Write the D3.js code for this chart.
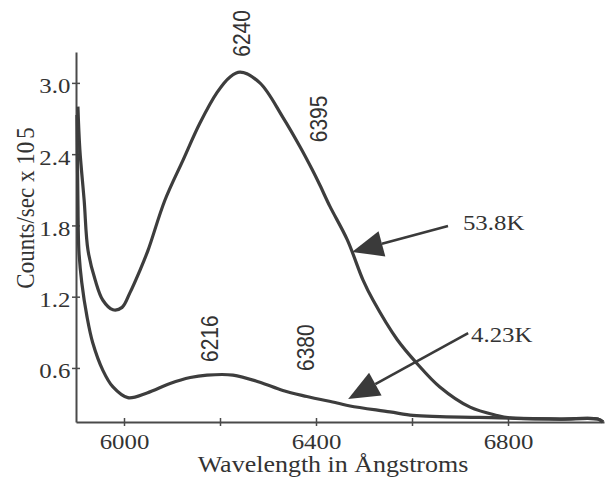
<html>
<head>
<style>
  body { margin: 0; background: #fff; }
  text { fill: #333; }
</style>
</head>
<body>
<script src="https://d3js.org/d3.v7.min.js"></script>
<script>

    // Emission spectra, counts/sec x 10^5 against wavelength (Å)
    var wave538 = [5904, 5908, 5917, 5925, 5940, 5956, 5977, 5996, 6012, 6033, 6050, 6085, 6123, 6158, 6194, 6221, 6242,
                   6283, 6331, 6367, 6392, 6408, 6429, 6465, 6498, 6519, 6569, 6610, 6658, 6721, 6777, 6804, 6908, 6987, 6998];
    var counts538 = [2.80, 2.44, 2.01, 1.59, 1.34, 1.17, 1.09, 1.11, 1.23, 1.42, 1.59, 2.01, 2.35, 2.66, 2.92, 3.05, 3.09,
                     3.00, 2.71, 2.46, 2.27, 2.14, 1.96, 1.68, 1.34, 1.17, 0.84, 0.64, 0.44, 0.27, 0.20, 0.18, 0.17, 0.17, 0.145];

    var wave423 = [5902, 5904, 5906, 5912, 5923, 5935, 5956, 5977, 6008, 6048, 6096, 6138, 6173, 6227, 6283, 6331, 6381,
                   6444, 6471, 6554, 6602, 6658, 6783, 6908, 6987, 6998];
    var counts423 = [2.73, 2.01, 1.59, 1.32, 1.03, 0.81, 0.58, 0.44, 0.35, 0.39, 0.47, 0.52, 0.54, 0.54, 0.48, 0.41, 0.36,
                     0.305, 0.28, 0.23, 0.20, 0.19, 0.18, 0.17, 0.17, 0.145];

    var xTicks = [6000, 6200, 6400, 6600, 6800];
    var xTickLabels = ["6000", "", "6400", "", "6800"];
    var yTicks = [0.6, 1.2, 1.8, 2.4, 3.0];

    // peak markers: [label, wavelength, counts] (text sits upright, baseline at the point)
    var peakLabels = [["6240", 6262, 3.22], ["6395", 6423, 2.50], ["6216", 6196, 0.65], ["6380", 6396, 0.574]];

    // temperature callouts: [label, textX, textY, tailX, tailY, tipX, tipY]
    var callouts = [["53.8K", 6706, 1.76, 6675, 1.795, 6475, 1.577],
                    ["4.23K", 6723, 0.82, 6717, 0.894, 6467, 0.339]];

    var width = 605, height = 485;
    var stretch = 1.13;   // glyphs are set a little wide

    var x = d3.scaleLinear().domain([5900, 7000]).range([76, 604]);
    var y = d3.scaleLinear().domain([0.145, 3.26]).range([422, 52]);

    var svg = d3.select("body").append("svg")
        .attr("width", width)
        .attr("height", height)
        .style("font-family", "'Liberation Serif', 'Times New Roman', serif");

    // axes
    var xAxis = svg.append("g")
        .attr("transform", "translate(0," + y(0.145) + ")")
        .call(d3.axisBottom(x).tickValues(xTicks)
            .tickFormat(function(d, i) { return xTickLabels[i]; })
            .tickSizeInner(4).tickSizeOuter(0).tickPadding(7));

    var yAxis = svg.append("g")
        .attr("transform", "translate(" + x(5900) + ",0)")
        .call(d3.axisLeft(y).tickValues(yTicks)
            .tickFormat(d3.format(".1f"))
            .tickSizeInner(4).tickSizeOuter(0).tickPadding(1));

    [xAxis, yAxis].forEach(function(ax) {
        ax.select(".domain").attr("stroke", "#4a4a4a").attr("stroke-width", 2);
        ax.selectAll(".tick line").attr("stroke", "#4a4a4a").attr("stroke-width", 1.5);
        ax.selectAll(".tick text")
            .attr("font-family", "'Liberation Serif', serif")
            .attr("font-size", 22)
            .attr("fill", "#3a3a3a")
            .attr("transform", "scale(" + stretch + ",1)");
    });
    // ticks cross the axis line
    xAxis.selectAll(".tick").append("line").attr("y2", -4)
        .attr("stroke", "#4a4a4a").attr("stroke-width", 1.5);
    yAxis.selectAll(".tick").append("line").attr("x2", 4)
        .attr("stroke", "#4a4a4a").attr("stroke-width", 1.5);
    yAxis.selectAll(".tick text").attr("dy", "0.45em");

    // spectra
    var line = d3.line()
        .x(function(d) { return x(d[0]); })
        .y(function(d) { return y(d[1]); })
        .curve(d3.curveCatmullRom.alpha(0.5));

    [[wave538, counts538], [wave423, counts423]].forEach(function(s) {
        svg.append("path")
            .datum(d3.zip(s[0], s[1]))
            .attr("fill", "none")
            .attr("stroke", "#3d3d3d")
            .attr("stroke-width", 3.2)
            .attr("stroke-linejoin", "round")
            .attr("d", line);
    });

    // peak wavelengths, written vertically
    svg.selectAll(".peak").data(peakLabels).enter().append("text")
        .attr("class", "peak")
        .attr("transform", function(d) {
            return "translate(" + x(d[1]) + "," + y(d[2]) + ") scale(" + stretch + ",1) rotate(-90)";
        })
        .attr("font-family", "'Liberation Sans', Arial, sans-serif")
        .attr("font-size", 21)
        .attr("fill", "#3a3a3a")
        .text(function(d) { return d[0]; });

    // arrows pointing at each curve
    callouts.forEach(function(c) {
        var x0 = x(c[3]), y0 = y(c[4]), x1 = x(c[5]), y1 = y(c[6]);
        var dx = x1 - x0, dy = y1 - y0, len = Math.sqrt(dx * dx + dy * dy);
        var ux = dx / len, uy = dy / len;
        var headLen = 31, headW = 13;
        var bx = x1 - ux * headLen, by = y1 - uy * headLen;

        svg.append("line")
            .attr("x1", x0).attr("y1", y0)
            .attr("x2", bx).attr("y2", by)
            .attr("stroke", "#3a3a3a")
            .attr("stroke-width", 2.6);

        svg.append("path")
            .attr("d", "M" + x1 + "," + y1 +
                       "L" + (bx - uy * headW) + "," + (by + ux * headW) +
                       "L" + (bx + uy * headW) + "," + (by - ux * headW) + "Z")
            .attr("fill", "#3a3a3a");

        svg.append("text")
            .attr("transform", "translate(" + x(c[1]) + "," + y(c[2]) + ") scale(" + stretch + ",1)")
            .attr("font-size", 22)
            .attr("fill", "#333")
            .text(c[0]);
    });

    // axis titles
    svg.append("text")
        .attr("transform", "translate(333,472) scale(" + stretch + ",1)")
        .attr("text-anchor", "middle")
        .attr("font-size", 23)
        .attr("fill", "#333")
        .text("Wavelength in Ångstroms");

    var yTitle = svg.append("text")
        .attr("transform", "translate(34,208) scale(" + stretch + ",1) rotate(-90)")
        .attr("text-anchor", "middle")
        .attr("font-size", 23)
        .attr("fill", "#333")
        .text("Counts/sec x 10");
    yTitle.append("tspan").attr("dx", 3).text("5");

</script>
</body>
</html>
